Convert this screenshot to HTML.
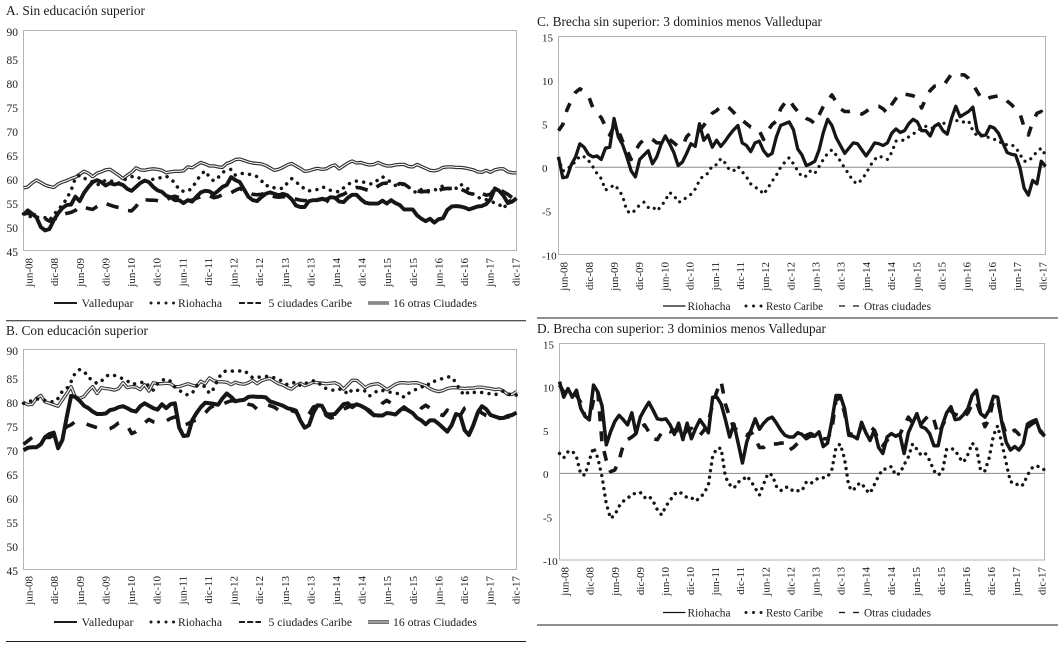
<!DOCTYPE html>
<html lang="es">
<head>
<meta charset="utf-8">
<title>Brechas por educación superior</title>
<style>
html,body{margin:0;padding:0;background:#fff;}
svg{display:block;font-family:"Liberation Serif","DejaVu Serif",serif;fill:#1c1c1c;}
</style>
</head>
<body>
<svg id="chart" xmlns="http://www.w3.org/2000/svg" width="1061" height="645" viewBox="0 0 1061 645">
  <rect x="0" y="0" width="1061" height="645" fill="#fff"/>

  <text x="6" y="15" font-size="13.5" textLength="139" lengthAdjust="spacingAndGlyphs">A. Sin educación superior</text>
  <text x="6" y="335" font-size="13.5" textLength="142" lengthAdjust="spacingAndGlyphs">B. Con educación superior</text>
  <text x="537" y="26" font-size="13.5" textLength="285" lengthAdjust="spacingAndGlyphs">C. Brecha sin superior: 3 dominios menos Valledupar</text>
  <text x="537" y="333" font-size="13.5" textLength="289" lengthAdjust="spacingAndGlyphs">D. Brecha con superior: 3 dominios menos Valledupar</text>

  <line x1="6" x2="526" y1="320.8" y2="320.8" stroke="#1c1c1c" stroke-width="1"/>
  <line x1="6" x2="526" y1="641.5" y2="641.5" stroke="#1c1c1c" stroke-width="1"/>
  <line x1="537" x2="1058" y1="318" y2="318" stroke="#1c1c1c" stroke-width="1"/>
  <line x1="537" x2="1058" y1="625" y2="625" stroke="#1c1c1c" stroke-width="1"/>

  <g font-size="11.5">
    <line x1="54" x2="77" y1="303" y2="303" stroke="#1c1c1c" stroke-width="2"/>
    <text x="81.5" y="307" textLength="52" lengthAdjust="spacingAndGlyphs">Valledupar</text>
    <line x1="151" x2="174" y1="303" y2="303" stroke="#1c1c1c" stroke-width="3" stroke-linecap="round" stroke-dasharray="0.01 7.5"/>
    <text x="178" y="307" textLength="44" lengthAdjust="spacingAndGlyphs">Riohacha</text>
    <line x1="239" x2="261" y1="303" y2="303" stroke="#1c1c1c" stroke-width="2" stroke-dasharray="6 2.2"/>
    <text x="268.5" y="307" textLength="83.5" lengthAdjust="spacingAndGlyphs">5 ciudades Caribe</text>
    <line x1="368" x2="389" y1="303" y2="303" stroke="#333" stroke-width="3"/>
    <line x1="368" x2="389" y1="303" y2="303" stroke="#ddd" stroke-width="1"/>
    <text x="393" y="307" textLength="84" lengthAdjust="spacingAndGlyphs">16 otras Ciudades</text>
  </g>
  <g font-size="11.5">
    <line x1="54" x2="77" y1="622" y2="622" stroke="#1c1c1c" stroke-width="2"/>
    <text x="81.5" y="626" textLength="52" lengthAdjust="spacingAndGlyphs">Valledupar</text>
    <line x1="151" x2="174" y1="622" y2="622" stroke="#1c1c1c" stroke-width="3" stroke-linecap="round" stroke-dasharray="0.01 7.5"/>
    <text x="178" y="626" textLength="44" lengthAdjust="spacingAndGlyphs">Riohacha</text>
    <line x1="239" x2="261" y1="622" y2="622" stroke="#1c1c1c" stroke-width="2" stroke-dasharray="6 2.2"/>
    <text x="268.5" y="626" textLength="83.5" lengthAdjust="spacingAndGlyphs">5 ciudades Caribe</text>
    <line x1="368" x2="389" y1="622" y2="622" stroke="#444" stroke-width="3.6"/>
    <line x1="368" x2="389" y1="622" y2="622" stroke="#aaa" stroke-width="1.8"/>
    <text x="393" y="626" textLength="84" lengthAdjust="spacingAndGlyphs">16 otras Ciudades</text>
  </g>
  <g font-size="11.5">
    <line x1="663" x2="685.5" y1="306" y2="306" stroke="#111" stroke-width="1.2"/>
    <text x="687.5" y="310" textLength="43" lengthAdjust="spacingAndGlyphs">Riohacha</text>
    <line x1="746" x2="762" y1="306" y2="306" stroke="#1c1c1c" stroke-width="3" stroke-linecap="round" stroke-dasharray="0.01 7.5"/>
    <text x="766" y="310" textLength="57" lengthAdjust="spacingAndGlyphs">Resto Caribe</text>
    <line x1="839" x2="860" y1="306" y2="306" stroke="#111" stroke-width="1.2" stroke-dasharray="6 8"/>
    <text x="864" y="310" textLength="67" lengthAdjust="spacingAndGlyphs">Otras ciudades</text>
  </g>
  <g font-size="11.5">
    <line x1="663" x2="685.5" y1="612.5" y2="612.5" stroke="#111" stroke-width="1.2"/>
    <text x="687.5" y="616.5" textLength="43" lengthAdjust="spacingAndGlyphs">Riohacha</text>
    <line x1="746" x2="762" y1="612.5" y2="612.5" stroke="#1c1c1c" stroke-width="3" stroke-linecap="round" stroke-dasharray="0.01 7.5"/>
    <text x="766" y="616.5" textLength="57" lengthAdjust="spacingAndGlyphs">Resto Caribe</text>
    <line x1="839" x2="860" y1="612.5" y2="612.5" stroke="#111" stroke-width="1.2" stroke-dasharray="6 8"/>
    <text x="864" y="616.5" textLength="67" lengthAdjust="spacingAndGlyphs">Otras ciudades</text>
  </g>
</svg>

<script>
// Tick labels (one every six months; series are monthly, each row below starts at a tick)
var tickLabels = ['jun-08','dic-08','jun-09','dic-09','jun-10','dic-10','jun-11','dic-11','jun-12','dic-12','jun-13','dic-13','jun-14','dic-14','jun-15','dic-15','jun-16','dic-16','jun-17','dic-17'];
var levelTicks = [90,85,80,75,70,65,60,55,50,45];
var gapTicks = [15,10,5,0,-5,-10];

// Panel A: Sin educación superior
var aValledupar = [
52.3,53.2,52.5,51.8,49.8,49.1,
49.4,51.2,52.6,53.7,54.3,54.4,
56,55.1,56.8,58,59,59.4,
59,58.3,58.8,58.5,58.7,58.4,
57.6,57.2,58,58.8,59.3,59,
58,57.3,57,56.2,55.9,55.3,
55.3,54.7,55.3,55,56,56.9,
57.2,57.1,56.5,57.2,58,58.4,
60,59.4,59,57.5,56,55.3,
55.1,55.9,56.6,56.9,56.6,56.3,
56.6,56.3,55.5,54.2,53.9,53.9,
55.1,55.3,55.3,55.6,55.4,55.9,
55.8,55,54.9,55.8,56.4,56.4,
55.5,54.8,54.6,54.6,54.6,55.2,
54.6,55.3,54.7,54.3,53.4,53.4,
53.4,52.2,51.5,51,51.5,50.7,
51.4,51.6,53.3,54,54.1,54,
53.8,53.4,53.7,54,54.1,54.5,
55.5,57.7,57.2,56.2,54.7,55,
55.7];
var aRiohacha = [
52.5,52,51.9,51.8,51.8,51.7,
51.2,52.3,53.4,54.3,55.6,57.3,
59.8,60.4,59.8,59.4,59,58.4,
58.8,59.4,59.3,59,58.8,59.4,
59.7,60.1,60.2,59.7,59.3,59.2,
59.6,59.7,60,60.2,59.7,58.8,
57.4,57.1,57.1,57.8,59.2,60.5,
61.3,60,59.2,59.9,61,61.3,
61.6,60.4,60.7,60.8,60.6,60.5,
60.1,59.3,58.2,58.3,57.8,57.7,
57.7,58.8,59.7,58.9,58.5,57.5,
57.2,57.3,57.5,58,57.8,57.3,
57.1,57,57.8,58.5,59,59.2,
59.1,58.9,58.6,58.7,59.5,60.1,
59.5,59,58.3,58.5,58.5,58,
57.2,56.8,57.5,57.3,57.2,57.3,
57.8,58.2,57.7,57.6,57.7,58.6,
58,57.5,56.5,55.9,55.6,55.4,
55.1,54.7,54.4,53.6,54.8,55.5,
55.6];
var aCaribe = [
52.5,52.6,52.4,52.2,51.8,51.5,
51,51.3,51.8,52.3,52.6,52.8,
53.2,53.9,53.8,53.6,53.4,54,
54.5,54.6,54.3,54,53.8,53.6,
53.2,53.1,54,55.2,55.4,55.3,
55.3,55.2,55,55.3,55.9,56.1,
55.8,55.5,55.2,55.3,55.7,56,
56.3,56.2,55.8,56,56.4,56.6,
56.8,57.3,57.7,57.2,56.9,56.5,
56.4,56.5,56.8,56.5,56,55.9,
56,56.1,55.8,55.5,55.3,55.2,
55.3,55.3,55.4,55.5,55.3,54.6,
55.5,56.2,56.5,57,57.6,57.9,
57.8,57.5,57.2,57.5,58.2,58.7,
58.8,58.5,58.2,58.7,58.6,58,
57.5,57.2,57,57.1,57,57,
57.3,57.6,57.7,57.7,57.8,57.6,
57.2,56.7,56.5,56.6,56.7,56.3,
56.5,57.7,57.5,57,56.5,55.8,
55.6];
var aOtras = [
57.8,58,58.8,59.4,58.9,58.4,
58.1,57.9,58.6,59,59.3,59.7,
60,60.6,61.2,60.8,60.1,60.8,
61.1,61.5,61.6,61,60.4,59.7,
60.4,61,61.9,61.5,61.4,61.6,
61.7,61.6,61.4,60.9,61.1,61.2,
61.2,61.3,62.1,61.9,62.5,63,
62.7,62.3,62.3,62.1,62,62.8,
63.1,63.6,63.7,63.4,63.1,62.9,
62.8,62.7,62.4,61.9,61.4,61.6,
62,62.5,62.8,62.3,61.8,61.2,
61.3,61.6,61.8,61.6,61.7,62.2,
62.5,61.7,62.3,62.9,63.3,62.9,
63,62.7,62.5,62.6,63,62.6,
62.3,62.3,62.5,62.6,62.6,62.2,
62.1,62.6,62.2,61.8,61.4,61.3,
61.5,62,62.1,62.1,62,62,
61.9,61.7,61.5,61.1,61,61.4,
61,61.5,61.7,61.7,61.1,60.9,
60.9];

// Panel B: Con educación superior
var bValledupar = [
69.4,69.9,70,70,70.6,72.1,
72.7,73,69.8,71.5,76.2,80.5,
80.3,79.5,78.5,78,77.3,76.8,
76.8,76.9,77.6,77.8,78.2,78.4,
78,77.5,77.3,78.4,79,78.5,
78,77.7,78.8,78,78.8,79,
74,72.3,72.4,75.5,77,78.2,
79.1,79,78.9,78.7,80,81,
80.3,79.4,79.6,79.7,80.3,80.4,
80.3,80.3,80.2,79.4,79.1,78.8,
78.5,78,77.8,77.5,75.5,74,
74.5,77,78.6,78.5,76.8,76.7,
76.8,77.8,78.8,79,78.2,78.8,
78.5,78,77.5,76.6,76.5,76.5,
77,76.9,76.7,77.5,78.2,77.5,
77,76,75.5,74.7,75.5,75.5,
74.8,74,73.2,74.5,76.8,76.5,
73.5,72.5,74.5,77,78.4,77.8,
76.6,76.3,76,76,76.4,76.6,
77.1];
var bRiohacha = [
79,79.2,79.6,79.9,79.8,79.6,
79.5,79.2,80,81.5,82,83.4,
85.3,85.9,85.6,84.2,83.8,83,
83.5,84.5,84.9,84.7,84.4,84,
83.6,82.9,83,83.2,83.4,82.5,
81.7,83,83.7,84,83.5,82.3,
81.7,81,80.7,81,82.6,82.7,
82.4,81,82,84,85.3,85.7,
85.6,85.5,85.6,85.7,85,84.2,
84.3,84.4,84.5,84.5,84.2,83.8,
83.5,82.8,83,83.4,82.6,83,
83.3,83.6,83.4,82.5,82,81.8,
81.6,81.9,81.8,80.8,81.8,81.6,
81.8,81.5,80.5,81,81.7,81.6,
81.5,81.2,81,81,80.2,81,
81.6,81.9,82.2,83,82.8,83.5,
83.8,84.1,84.4,84.4,83.2,81.6,
80.6,81.4,81.2,81.3,81.2,81.1,
80.9,80.7,81.2,81.5,81,80.5,
80.7];
var bCaribe = [
70.6,71.3,72,72.6,72.3,72,
72,72.5,73,73.5,74.2,74.6,
75.3,75.2,75,74.6,74.3,74,
73.8,73.6,73.8,74.3,75,75.2,
74.5,72.8,73.2,74,75,75.7,
75.2,75,75,75.4,75.9,76.2,
76,74.5,74.8,75.3,75.6,75.8,
77,78,78.5,78,78.8,79.2,
79.5,79.5,79.3,79.2,78.8,78.6,
77.8,78.5,78.8,78.5,78.2,77.6,
77.2,77.3,77.5,77.2,76,75.8,
76.8,78.2,78.6,78,76.5,76,
76.2,77,77.8,78.2,78.6,78.6,
78.5,78,77.2,76.5,77.6,79,
79.6,79,78.3,78.1,77.8,77.6,
77,76.5,78,78.6,78,77.4,
76.8,76.5,77.6,77.2,76.2,76.5,
78,78.4,78.3,77.8,77,76.5,
76.3,76,75.9,76,76.2,76.4,
76.7];
var bOtras = [
79.2,78.7,78.8,80,80.6,79.3,
79,78.7,78.4,79.7,81,82.4,
80.2,80,80.4,81.5,82.4,81,
82.2,82,81.9,81.7,82,83.2,
82.2,82.4,82.3,81.8,82.8,81.5,
83.2,83,83,83.1,83,82.4,
82.4,82.7,83,82.7,82.5,83.5,
83,84.2,83.6,83.4,83.4,83.3,
82.8,83.3,83,82.9,83.2,83.7,
83,83.6,83.9,84.1,83.5,83,
82.7,82.2,81.9,82.6,83.1,82.6,
82.9,83.3,83.2,83.1,83,83.1,
83.2,82.8,81.9,82.8,83.7,83.7,
83,82.2,82.7,82.9,83,82.5,
81.8,82.3,82.9,83.2,83.2,83.1,
83.2,83.2,82.9,82.6,82,81.6,
81.4,81.6,82,82.2,82.2,82.1,
82,82.1,82.1,82.3,82.3,82.1,
82,81.8,81.9,81.5,80.8,80.8,
81.4];

// Panel C: Brecha sin superior
var cRiohacha = [
1.2,-1.2,-1.1,0.3,1.2,2.7,
2.3,1.5,1.2,1.3,0.9,2.2,
2.3,5.6,3.5,2.6,1.2,-0.4,
-1.1,0.9,1.4,1.9,0.4,1.2,
2.6,3.6,2.7,1.7,0.2,0.6,
1.6,2.7,2.4,5,3.1,3.7,
2.3,3.1,2.4,3,3.7,4.3,
4.8,2.8,2.5,1.8,2.8,3,
1.9,1.3,1.6,3.5,4.8,5,
5.2,4.3,2.1,1.4,0.2,0.4,
0.7,2,4,5.5,4.8,3.4,
2.5,1.6,2.2,2.8,2.7,2,
1.3,2,2.8,2.7,2.5,2.8,
3.9,4.4,4,4.2,5,5.5,
5.2,4.2,4.2,3.6,4.7,5,
4.2,3.8,5.6,7,5.8,6.1,
6.4,6.9,4.2,3.6,3.7,4.7,
4.5,3.9,2.8,1.7,1.5,1.4,
0,-2.4,-3.2,-1.5,-1.9,0.7,
0.1];
var cResto = [
1,-0.4,-0.3,0.3,0.6,1.3,
1.2,0.8,0.1,-0.7,-1.3,-2.6,
-2.4,-2,-2.5,-3.3,-5,-5.3,
-4.9,-4.3,-4,-4.6,-4.5,-5,
-4.5,-3.8,-2.9,-3.2,-4,-3.9,
-3.4,-3.1,-2.5,-1.5,-0.9,-0.7,
0.2,0.3,1,0.5,-0.3,-0.4,
0.1,-0.5,-1.1,-1.9,-2.3,-2.5,
-3.1,-2.4,-1.6,-0.9,0,0.6,
1.1,0.4,-0.4,-1.1,-1,-0.4,
-0.7,0.1,0.9,1.6,2,1.4,
0.7,-0.1,-0.8,-1.6,-1.9,-1.4,
-0.7,0.2,0.9,1.3,1.1,0.9,
1.7,3,3.1,3.1,3.5,3.8,
4.2,4.5,4.7,4.5,4.5,5,
5,5.2,5.2,5.4,5.2,5.2,
5.3,4.2,3.6,3.7,3.5,3.4,
3.2,3.1,2.6,2.6,2.6,2.3,
1.5,0.7,0.7,1.2,1.8,2.2,
1.4];
var cOtras = [
4.2,4.9,6.6,7.7,8.6,9,
8.7,8.2,6.9,6.2,5.7,4.7,
3.7,4.7,4.2,3,2,0.9,
1.9,2.7,3.2,3.4,3.2,2.8,
2.8,3.3,3.2,2.8,2.4,2.4,
3.5,4,4.3,4.2,4.8,5.5,
6.2,6.5,7,7.1,6.8,6.3,
5.8,5.4,5,4.6,4.5,4.2,
3.2,4.2,4.9,5.3,6.7,7.4,
7.8,7,6.4,6,5.6,5.4,
5,6,7,7.6,8.3,7.5,
6.7,6.4,6.4,6.5,6.3,6.1,
6.4,6.8,7,7,6.7,6.2,
7.2,7.9,8.5,8.4,8.3,8.2,
8,6.8,7.9,8.8,9.3,9.3,
9.3,10,10.7,10.5,10.6,10.6,
10.2,9.5,8.7,7.9,7.7,8,
8.1,8.2,8.1,7.6,7.2,6.7,
6.2,4.6,3.7,5.2,6.2,6.4,
5.2];

// Panel D: Brecha con superior
var dRiohacha = [
10.6,8.8,9.8,8.8,9.6,7.5,
6.6,6.2,10.2,9.4,7.8,3.3,
4.8,6,6.7,6.2,5.6,7,
4.6,6.5,7.4,8.2,7.3,6.3,
6.2,6.3,5.6,4.5,5.8,3.9,
5.8,4,5.2,6.2,5.5,4.7,
8.8,8.8,8,6.2,4.2,5.7,
3.5,1.2,3.6,5,6.3,5.1,
5.8,6.3,6.5,5.8,5,4.4,
4.2,4.2,4.7,4.5,4,4.3,
4.3,4.8,3.1,3.5,6,9,
9,7.5,4.4,4.3,4,5.9,
4.7,3.8,5,3,2.3,4.2,
4.6,4.3,4.5,2.3,4.7,5.8,
6.9,5.4,5.2,4.6,3.2,3.2,
5.6,7,7.7,6.2,6.3,6.8,
7.5,9,9.6,6.9,6.5,7.3,
8.9,8.8,5.8,3.6,2.7,3.1,
2.7,3.4,5.7,6,6.2,4.8,
4.3];
var dResto = [
2.3,1.8,2.5,2.6,1.9,-0.1,
-0.2,1.5,3,1.8,-0.4,-3.5,
-5.2,-4.8,-3.8,-3.2,-2.9,-2.4,
-2.3,-2.2,-2.8,-2.6,-3.2,-4.2,
-4.8,-3.8,-3.1,-2.4,-2.1,-2.4,
-2.8,-2.8,-3.2,-2.8,-2.3,-1.3,
2,2.9,2.9,-0.4,-1.3,-1.7,
-1,-0.8,-0.3,-0.9,-1.7,-2.5,
-1.2,0,-0.2,-1.5,-2,-1.6,
-1.6,-2.1,-2,-2,-1,-1.2,
-0.8,-0.5,-0.5,-0.4,0.4,3,
3.4,1.7,-1.5,-2,-1.3,-1.1,
-1.9,-2.3,-1.3,-0.3,0.5,0.5,
0.8,-0.2,0,1,1.9,3.4,
2.8,2.1,2.3,1.5,0.3,-0.2,
0.2,2.8,2.9,2.7,1.8,1.3,
2.2,3.5,3,0.3,0.3,1.8,
4.4,5.5,3.4,1.2,-1,-1,
-1.5,-1.3,-0.2,0.6,0.9,0.7,
0.4];
var dOtras = [
10.2,9.4,9.2,9,9,8.2,
6.6,6.2,8.5,9.5,3.5,1.5,
0.2,0.4,1.5,3.3,3.9,4.2,
4.6,5.3,5.6,4.8,4,3.9,
4.7,5,4.8,5,4.9,4.3,
5,5.2,4.7,4.4,5,6,
8,9.5,10.6,8,6.5,5.2,
5,4.6,4.4,4.8,4,3,
3,3.4,3.4,3.4,3.5,3.5,
2.7,3,3.5,4,4.4,4.6,
4.4,4.3,4,4,5,8.5,
8.7,7,4.6,4.5,4.2,5.5,
5.8,5.4,5,3.8,3.2,3.8,
4.5,4.3,4.5,5.5,6.5,5.8,
5.6,5.7,6.3,6.8,6.2,4.5,
5.5,6.5,7.2,6.8,6.7,6.4,
7,8,8.3,6.8,5.4,6.3,
8.5,8.5,6,4.5,4.7,5,
4.5,5,5.3,5.7,6,5,
4.3];

var SVG_NS = 'http://www.w3.org/2000/svg';
var root = document.getElementById('chart');

function make(parent, tag, attrs, text) {
  var el = document.createElementNS(SVG_NS, tag);
  for (var k in attrs) { el.setAttribute(k, attrs[k]); }
  if (text !== undefined) { el.textContent = text; }
  parent.appendChild(el);
  return el;
}

function xScale(p, i, n) { return p.left + i * (p.right - p.left) / (n - 1); }
function yScale(p, v) { return p.top + (p.max - v) / (p.max - p.min) * (p.bottom - p.top); }

function pathFor(p, values) {
  var d = '';
  for (var i = 0; i < values.length; i++) {
    d += (i ? 'L' : 'M') + xScale(p, i, values.length).toFixed(2) + ' ' + yScale(p, values[i]).toFixed(2);
  }
  return d;
}

function drawPanel(p) {
  var g = make(root, 'g', {});
  
  

  var frame = make(g, 'rect', { x: p.left, y: p.top, width: p.right - p.left, height: p.bottom - p.top, fill: 'none', stroke: '#b4b4b4', 'stroke-width': 1 });
  
  

  if (p.zeroStart) {
    var zero = make(g, 'line', { x1: p.zeroStart, x2: p.right, y1: yScale(p, 0), y2: yScale(p, 0), stroke: '#8c8c8c', 'stroke-width': 1 });
    
    
  }

  p.yTicks.forEach(function (v) {
    var t = make(g, 'text', { x: p.yLabelX, y: p.yLabel(v) + 3.8, 'font-size': p.yFont }, String(v));
    
    
  });

  tickLabels.forEach(function (label, i) {
    var cx = p.xLabelFirst + i * (p.xLabelLast - p.xLabelFirst) / (tickLabels.length - 1) + 3.6;
    var t = make(g, 'text', { x: cx, y: p.xLabelTop, 'font-size': 11, 'text-anchor': 'end', transform: 'rotate(-90 ' + cx + ' ' + p.xLabelTop + ')' }, label);
    
    
  });

  p.series.forEach(function (s) {
    var d = pathFor(p, s.values);
    var attrs = { d: d, fill: 'none', stroke: s.color || '#161616', 'stroke-width': s.width, 'stroke-linejoin': 'round', 'stroke-linecap': s.cap || 'butt' };
    if (s.dash) { attrs['stroke-dasharray'] = s.dash; }
    var line = make(g, 'path', attrs);
    
    
    if (s.core) {
      var inner = make(g, 'path', { d: d, fill: 'none', stroke: s.core, 'stroke-width': s.coreWidth, 'stroke-linejoin': 'round' });
      
      
    }
  });
}

function levelLabelY(top) {
  return function (v) { return v === 90 ? top + 1.5 : top + 29.5 + (85 - v) * 4.8; };
}
function gapLabelY(p) {
  return function (v) { return yScale(p, v) + 1; };
}

var panelA = { name: 'panel-a-chart', left: 23.5, right: 516.5, top: 30.5, bottom: 250.5, min: 45, max: 90, yTicks: levelTicks, yLabelX: 6.5, yFont: 11.5, xLabelFirst: 29, xLabelLast: 515.7, xLabelTop: 258, series: [
  { key: 'series-16-otras', values: aOtras, width: 3.4, color: '#2e2e2e', core: '#fff', coreWidth: 1.1 },
  { key: 'series-riohacha', values: aRiohacha, width: 3.5, dash: '0.01 7.4', cap: 'round' },
  { key: 'series-5-ciudades', values: aCaribe, width: 3.6, dash: '12.5 10' },
  { key: 'series-valledupar', values: aValledupar, width: 3.9 }
] };
panelA.yLabel = levelLabelY(panelA.top);

var panelB = { name: 'panel-b-chart', left: 23.5, right: 516.5, top: 349.5, bottom: 569.5, min: 45, max: 90, yTicks: levelTicks, yLabelX: 6.5, yFont: 11.5, xLabelFirst: 29, xLabelLast: 515.7, xLabelTop: 576, series: [
  { key: 'series-16-otras', values: bOtras, width: 3.4, color: '#383838', core: '#f4f4f4', coreWidth: 1.2 },
  { key: 'series-riohacha', values: bRiohacha, width: 3.5, dash: '0.01 7.4', cap: 'round' },
  { key: 'series-5-ciudades', values: bCaribe, width: 3.6, dash: '11 13' },
  { key: 'series-valledupar', values: bValledupar, width: 4 }
] };
panelB.yLabel = levelLabelY(panelB.top);

var panelC = { name: 'panel-c-chart', left: 558.5, right: 1045.5, top: 36.5, bottom: 254.5, min: -10, max: 15, yTicks: gapTicks, yLabelX: 542, yFont: 11, xLabelFirst: 564, xLabelLast: 1042.7, xLabelTop: 262, zeroStart: 575, series: [
  { key: 'series-otras-ciudades', values: cOtras, width: 3.6, dash: '9.5 11' },
  { key: 'series-resto-caribe', values: cResto, width: 3.2, dash: '0.01 6.8', cap: 'round' },
  { key: 'series-riohacha', values: cRiohacha, width: 3.3 }
] };
panelC.yLabel = gapLabelY(panelC);

var panelD = { name: 'panel-d-chart', left: 559.5, right: 1044.5, top: 343.5, bottom: 560, min: -10, max: 15, yTicks: gapTicks, yLabelX: 543, yFont: 11, xLabelFirst: 565, xLabelLast: 1041.7, xLabelTop: 567, zeroStart: 559.5, series: [
  { key: 'series-otras-ciudades', values: dOtras, width: 3.6, dash: '10 10' },
  { key: 'series-resto-caribe', values: dResto, width: 3.4, dash: '0.01 6.6', cap: 'round' },
  { key: 'series-riohacha', values: dRiohacha, width: 3.5 }
] };
panelD.yLabel = gapLabelY(panelD);

[panelA, panelB, panelC, panelD].forEach(drawPanel);
</script>
</body>
</html>
